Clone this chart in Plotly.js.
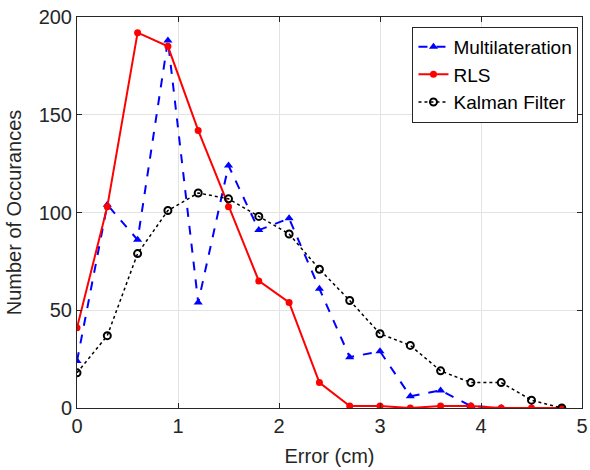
<!DOCTYPE html>
<html>
<head>
<meta charset="utf-8">
<script src="https://cdn.plot.ly/plotly-3.0.1.min.js"></script>
<style>html,body{margin:0;padding:0;background:#fff;}#chart{width:590px;height:470px;}</style>
</head>
<body>
<div id="chart"></div>
<script>
const errorCm = [0, 0.3, 0.6, 0.9, 1.2, 1.5, 1.8, 2.1, 2.4, 2.7, 3.0, 3.3, 3.6, 3.9, 4.2, 4.5, 4.8];
const multilateration = [24, 104, 86, 188, 54, 124, 91, 97, 61, 26, 29, 6, 9, 1, 0, 0, 0];
const rls = [41, 103, 192, 185, 142, 103, 65, 54, 13, 1, 1, 0, 1, 1, 0, 0, 0];
const kalman = [18, 37, 79, 101, 110, 107, 98, 89, 71, 55, 38, 32, 19, 13, 13, 4, 0];
const seriesNames = ["Multilateration", "RLS", "Kalman Filter"];
const xTicks = [0, 1, 2, 3, 4, 5];
const yTicks = [0, 50, 100, 150, 200];

const FONT = "Arial, Liberation Sans, sans-serif";

const traces = [
  {x: errorCm, y: multilateration, name: seriesNames[0], mode: "lines+markers",
   line: {color: "#0000ff", width: 2, dash: "dash"},
   marker: {symbol: "triangle-up", size: 8, color: "#0000ff"}},
  {x: errorCm, y: rls, name: seriesNames[1], mode: "lines+markers",
   line: {color: "#ff0000", width: 2},
   marker: {symbol: "circle", size: 7, color: "#ff0000"}},
  {x: errorCm, y: kalman, name: seriesNames[2], mode: "lines+markers",
   line: {color: "#000000", width: 1.5, dash: "dot"},
   marker: {symbol: "circle-open", size: 7, color: "#000000", line: {width: 2}}}
];

const axisCommon = {
  showline: true, mirror: "ticks", linecolor: "#262626", linewidth: 1,
  ticks: "inside", ticklen: 5, tickcolor: "#262626",
  showgrid: true, gridcolor: "#e3e3e3", gridwidth: 1, zeroline: false,
  tickfont: {family: FONT, size: 20, color: "#262626"}
};

const layout = {
  width: 590, height: 470,
  margin: {l: 77, r: 8, t: 17, b: 62},
  paper_bgcolor: "#ffffff", plot_bgcolor: "#ffffff",
  showlegend: true,
  xaxis: Object.assign({}, axisCommon, {
    range: [0, 5], tickvals: xTicks, ticktext: xTicks.map(String),
    title: {text: "Error (cm)", font: {family: FONT, size: 20, color: "#262626"}, standoff: 12}
  }),
  yaxis: Object.assign({}, axisCommon, {
    range: [0, 200], tickvals: yTicks, ticktext: yTicks.map(String),
    title: {text: "Number of Occurances", font: {family: FONT, size: 20, color: "#262626"}, standoff: 11}
  }),
  legend: {
    x: 0.993, y: 0.975, xanchor: "right", yanchor: "top",
    bgcolor: "#ffffff", bordercolor: "#262626", borderwidth: 1,
    font: {family: FONT, size: 19, color: "#000000"},
    tracegroupgap: 0, itemwidth: 30
  }
};

Plotly.newPlot("chart", traces, layout, {displayModeBar: false, staticPlot: true});
</script>
</body>
</html>
